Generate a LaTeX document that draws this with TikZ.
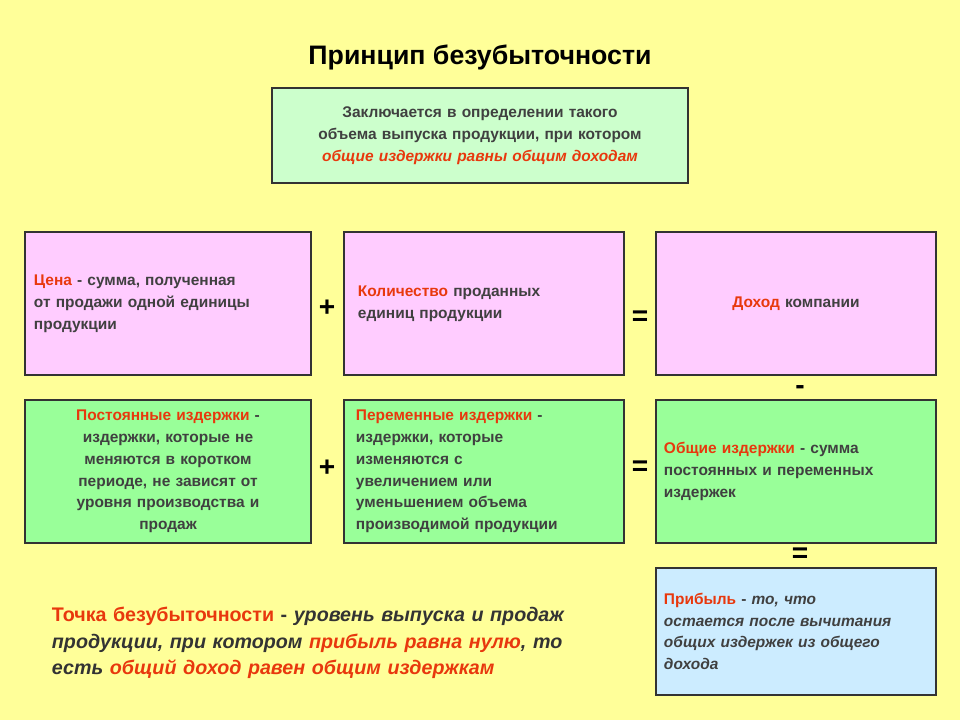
\documentclass[tikz,border=0pt]{standalone}
\usepackage{fontspec}
\setmainfont{Liberation Sans}
\usetikzlibrary{positioning}
\definecolor{bgyellow}{HTML}{FFFF99}
\definecolor{boxpink}{HTML}{FFCCFF}
\definecolor{boxgreen}{HTML}{99FF99}
\definecolor{boxlight}{HTML}{CCFFCC}
\definecolor{boxblue}{HTML}{CCECFF}
\definecolor{hl}{HTML}{E8380D}
\newcommand{\hlt}[1]{\textcolor{hl}{#1}}
\tikzset{
  box/.style={draw=black!80, line width=0.8pt, minimum width=7cm, minimum height=3.575cm,
    text width=6.5cm, font=\bfseries\fontsize{11}{15.5}\selectfont, text=black!75},
  sign/.style={font=\bfseries\fontsize{20}{20}\selectfont}
}
\begin{document}
\begin{tikzpicture}[x=0.025cm, y=-0.025cm]
    \fill [bgyellow] (0,0) rectangle (960,720);
    % Title
    \node [font=\bfseries\fontsize{19}{22}\selectfont] (title) at (480,57) {Принцип безубыточности};
    \node [box, fill=boxlight, minimum width=10.4cm, minimum height=2.375cm, text width=10cm, align=center] (principle) at (480,135.5)
        {Заключается в определении такого\\объема выпуска продукции, при котором\\\hlt{\itshape общие издержки равны общим доходам}};
    % Row 1
    \node [box, fill=boxpink, align=left, minimum width=7.15cm, text width=6.7cm] (price) at (168,303.5)
        {\hlt{Цена} - сумма, полученная\\от продажи одной единицы\\продукции};
    \node [box, fill=boxpink, align=left, text width=6.3cm] (quantity) at (484,303.5)
        {\hlt{Количество} проданных\\единиц продукции};
    \node [box, fill=boxpink, align=center] (revenue) at (796,303.5)
        {\hlt{Доход} компании\\[1.4em]};
    % Row 2
    \node [box, fill=boxgreen, align=center, minimum width=7.15cm] (fixed) at (168,471.5)
        {\hlt{Постоянные издержки} -\\издержки, которые не\\меняются в коротком\\периоде, не зависят от\\уровня производства и\\продаж};
    \node [box, fill=boxgreen, align=left, text width=6.4cm] (variable) at (484,471.5)
        {\hlt{Переменные издержки} -\\издержки, которые\\изменяются с\\увеличением или\\уменьшением объема\\производимой продукции};
    \node [box, fill=boxgreen, align=left, text width=6.6cm] (total) at (796,471.5)
        {\hlt{Общие издержки} - сумма\\постоянных и переменных\\издержек\\[2.6em]};
    % Profit
    \node [box, fill=boxblue, align=left, minimum height=3.175cm, text width=6.6cm] (profit) at (796,631.5)
        {\hlt{Прибыль} - {\itshape то, что\\остается после вычитания\\общих издержек из общего\\дохода}};
    % Signs
    \node [sign] (plus1) at (327,308) {+};
    \node [sign] (plus2) at (327,468) {+};
    \node [sign] (eq1) at (640,318) {=};
    \node [sign] (eq2) at (640,468) {=};
    \node [sign] (minus) at (800,390) {-};
    \node [sign] (eq3) at (800,555) {=};
    % Definition
    \node [anchor=north west, align=left, text width=14.5cm, font=\bfseries\fontsize{14}{19}\selectfont, text=black!80] (breakeven) at (47,602)
        {\hlt{Точка безубыточности} - {\itshape уровень выпуска и продаж\\продукции, при котором \hlt{прибыль равна нулю}, то\\есть \hlt{общий доход равен общим издержкам}}};
\end{tikzpicture}
\end{document}
